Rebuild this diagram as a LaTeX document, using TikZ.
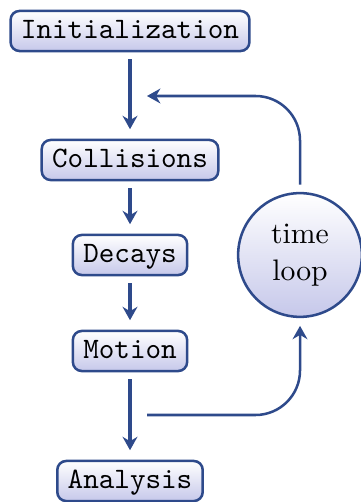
\documentclass[tikz,border=0pt]{standalone}
\usetikzlibrary{arrows.meta}
\definecolor{frame}{HTML}{2E4A8B}
\definecolor{lav}{HTML}{C6C8EA}
\tikzset{
  px/.style={x=0.337pt,y=-0.337pt},
  box/.style={draw=frame, line width=0.85pt, rounded corners=3pt,
    top color=white, bottom color=lav, font=\ttfamily,
    inner xsep=3.5pt, inner ysep=0pt, minimum height=13.5pt, text height=7pt, text depth=2pt},
  loopnode/.style={circle, draw=frame, line width=0.85pt, top color=white, bottom color=lav,
    minimum size=40.4pt, inner sep=0pt, align=center, font=\rmfamily, text width=36pt},
  flow/.style={draw=frame, line width=1.1pt, -{Stealth[length=4.5pt,width=5pt]},
    shorten <=2.4pt, shorten >=3.2pt},
  back/.style={draw=frame, line width=0.85pt, -{Stealth[length=4.5pt,width=5pt]},
    rounded corners=15pt}
}
\begin{document}
\begin{tikzpicture}[px]
\useasboundingbox (0,0) rectangle (361,502);
\node[box] (init) at (130,31) {Initialization};
\node[box] (coll) at (130,160) {Collisions};
\node[box] (dec) at (130,255) {Decays};
\node[box] (mot) at (130,351) {Motion};
\node[box] (ana) at (130,481) {Analysis};
\node[loopnode] (loop) at (300,255) {\centering time\\[0.5pt] loop};
\coordinate (c1) at (147,96);
\coordinate (c2) at (147,415);
\draw[flow] (init) -- (coll);
\draw[flow] (coll) -- (dec);
\draw[flow] (dec) -- (mot);
\draw[flow] (mot) -- (ana);
\draw[back, shorten <=2.4pt] (loop.north) |- (c1);
\draw[back, shorten >=2.6pt] (c2) -| (loop.south);
\end{tikzpicture}
\end{document}
